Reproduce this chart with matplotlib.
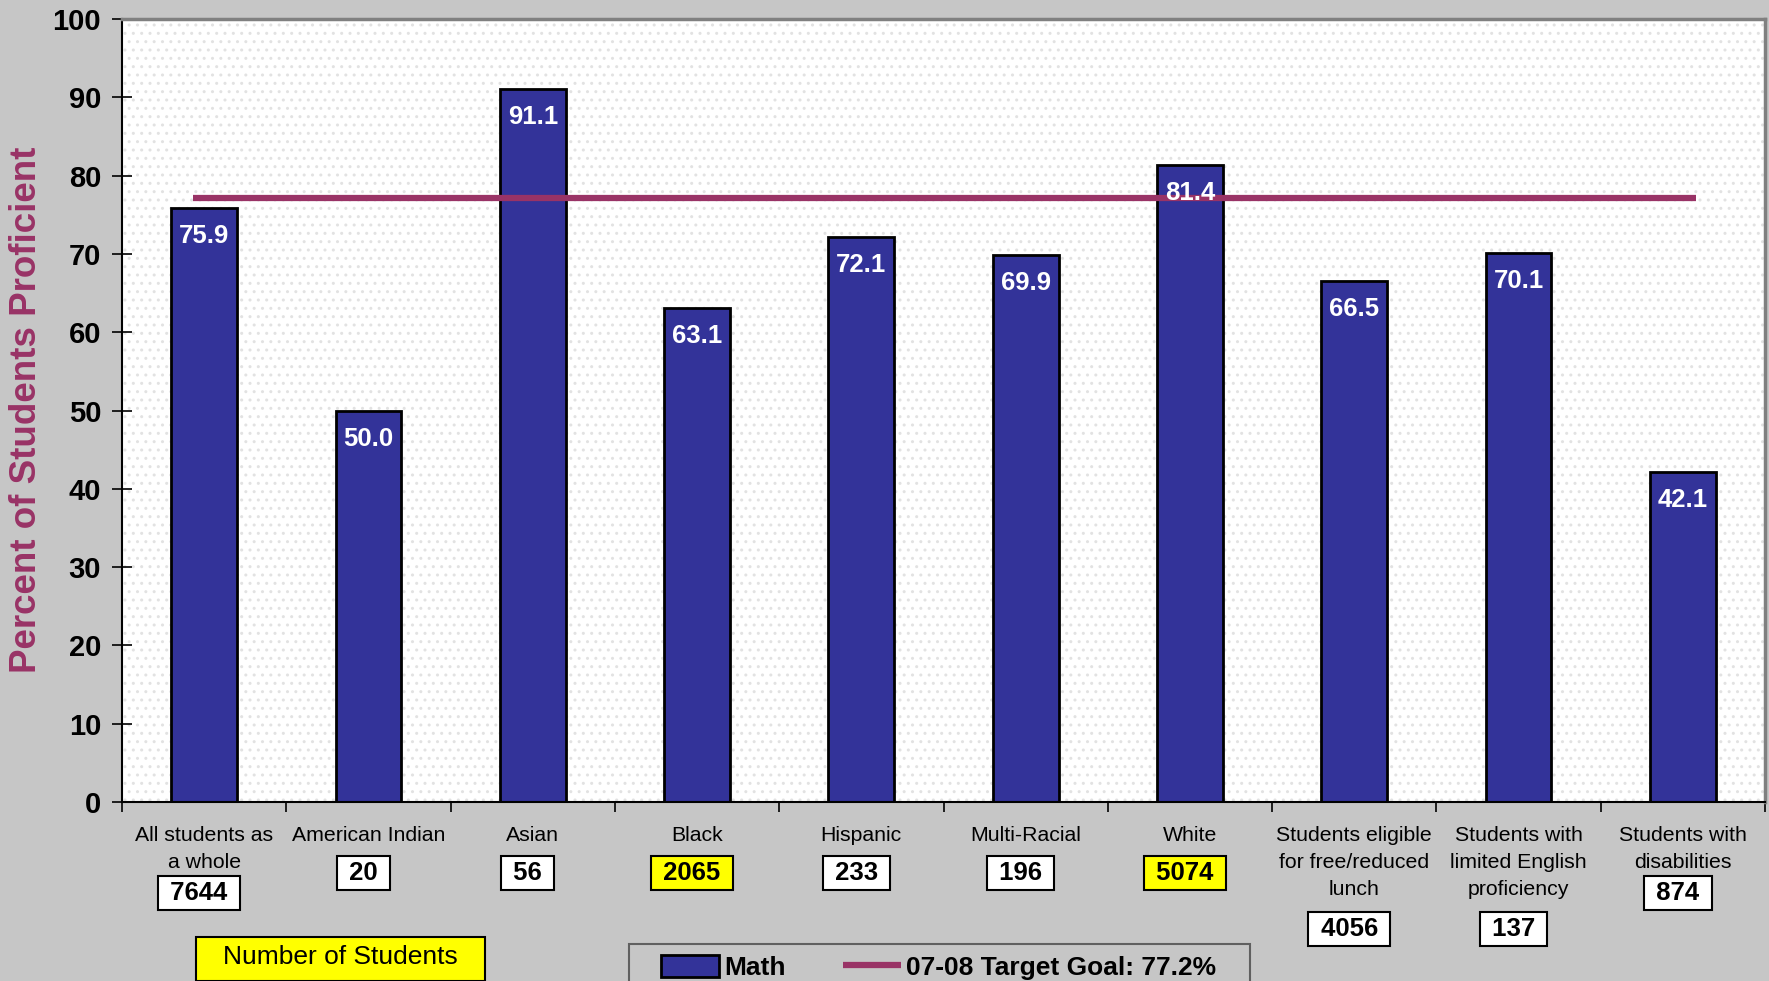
import matplotlib
matplotlib.use('Agg')
import matplotlib.pyplot as plt
import matplotlib.patches as patches
import numpy as np


categories = ['All students as\na whole', 'American Indian', 'Asian', 'Black', 'Hispanic',
              'Multi-Racial', 'White', 'Students eligible\nfor free/reduced\nlunch',
              'Students with\nlimited English\nproficiency', 'Students with\ndisabilities']
math = [75.9, 50.0, 91.1, 63.1, 72.1, 69.9, 81.4, 66.5, 70.1, 42.1]
counts = [7644, 20, 56, 2065, 233, 196, 5074, 4056, 137, 874]
highlighted = ['Black', 'White']
target = 77.2

plt.rcParams['font.family'] = ['Liberation Sans', 'DejaVu Sans']
plt.rcParams['hatch.linewidth'] = 1.0

bar_color = '#333399'
goal_color = '#993366'
bg = '#c6c6c6'

fig = plt.figure(figsize=(17.69, 9.81), dpi=100)
fig.patch.set_facecolor(bg)
ax = fig.add_axes([122 / 1769, 1 - 802 / 981, (1765 - 122) / 1769, (802 - 19) / 981])
ax.set_facecolor('white')
ax.patch.set_hatch('..')
ax.patch.set_edgecolor('#e2e2e2')

x = np.arange(len(categories))
bars = ax.bar(x, math, width=0.4, color=bar_color, edgecolor='black', linewidth=2, zorder=2,
              label='Math')
goal = ax.hlines(target, -0.07, 9.08, color=goal_color, linewidth=4.5, zorder=3,
                 label='07-08 Target Goal: 77.2%')

for xi, v in zip(x, math):
    ax.annotate(f'{v:.1f}', (xi, v), xytext=(0, -28), textcoords='offset pixels',
                ha='center', va='center', color='white', fontsize=18.5, fontweight='bold', zorder=4)

ax.set_xlim(-0.5, len(categories) - 0.5)
ax.set_ylim(0, 100)
ax.set_yticks(range(0, 101, 10))
ax.tick_params(axis='y', direction='inout', length=14, width=1.2, labelsize=21, pad=8)
for t in ax.get_yticklabels():
    t.set_fontweight('bold')

ax.set_xticks(x)
ax.set_xticklabels(categories, fontsize=15.3, linespacing=1.55)
ax.tick_params(axis='x', which='major', length=0, pad=17)
ax.set_xticks(np.arange(-0.5, len(categories)), minor=True)
ax.tick_params(axis='x', which='minor', direction='out', length=7, width=1.2)

for side in ['left', 'bottom']:
    ax.spines[side].set_color('black')
    ax.spines[side].set_linewidth(1.5)
for side in ['top', 'right']:
    ax.spines[side].set_color('#808080')
    ax.spines[side].set_linewidth(2.5)

fig.text(27 / 1769, 1 - 410 / 981, 'Percent of Students Proficient', rotation=90,
         ha='center', va='center', fontsize=26.5, fontweight='bold', color=goal_color)

# student counts under each label (offset depends on how many lines the label has)
drop = {1: 71, 2: 91, 3: 127}
for xi, name, n in zip(x, categories, counts):
    lines = name.count('\n') + 1
    face = 'yellow' if name in highlighted else 'white'
    ax.annotate(f' {n} ', (xi, 0), xycoords=('data', 'axes fraction'),
                xytext=(-5, -drop[lines]), textcoords='offset pixels',
                ha='center', va='center', fontsize=18.5, fontweight='bold',
                bbox=dict(boxstyle='square,pad=0.2', facecolor=face, edgecolor='black', linewidth=1.5),
                annotation_clip=False)

# "Number of Students" box
fig.patches.append(patches.Rectangle((196 / 1769, 0), (485 - 196) / 1769, (981 - 937) / 981,
                                     transform=fig.transFigure, facecolor='yellow',
                                     edgecolor='black', linewidth=1.5))
fig.text(340 / 1769, 1 - 957 / 981, 'Number of Students', ha='center', va='center',
         fontsize=19)

# legend frame + legend
fig.patches.append(patches.Rectangle((629 / 1769, -0.01), (1250 - 629) / 1769, (981 - 944) / 981 + 0.01,
                                     transform=fig.transFigure, facecolor='none',
                                     edgecolor='#606060', linewidth=1.5))
leg = fig.legend(handles=[bars, goal], loc='upper left', bbox_to_anchor=(661 / 1769, 1 - 955 / 981),
                 ncol=2, frameon=False, prop={'weight': 'bold', 'size': 19},
                 handlelength=2.2, handleheight=0.9, handletextpad=0.18, columnspacing=2.2,
                 borderpad=0, borderaxespad=0)

fig.savefig('out.png', dpi=100, facecolor=bg)
